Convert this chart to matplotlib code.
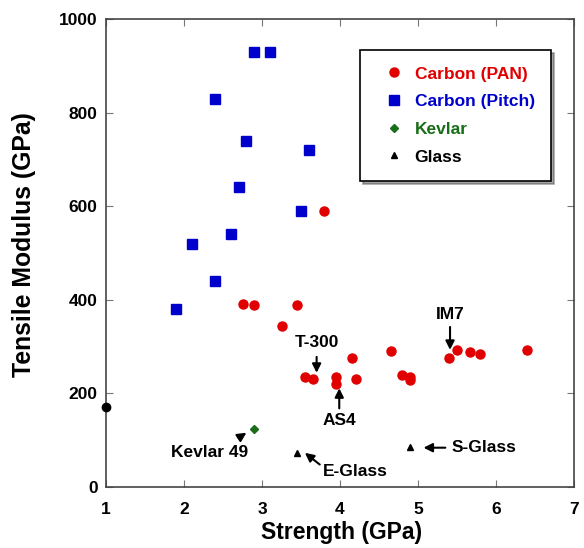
import matplotlib
matplotlib.use("Agg")
import matplotlib.pyplot as plt

plt.rcParams['font.family'] = ['Liberation Sans', 'DejaVu Sans']
plt.rcParams['font.weight'] = 'bold'

# data (strength GPa, modulus GPa)
pan_x = [3.8, 2.75, 2.9, 3.45, 3.25, 4.15, 4.65, 3.55, 3.65, 3.95, 3.95, 4.2,
         4.8, 4.9, 4.9, 5.4, 5.5, 5.67, 5.8, 6.4]
pan_y = [590, 390, 388, 388, 345, 275, 290, 235, 230, 235, 220, 230,
         240, 235, 228, 275, 292, 288, 284, 292]
pitch_x = [2.9, 3.1, 2.4, 2.8, 3.6, 2.7, 3.5, 2.6, 2.1, 2.4, 1.9]
pitch_y = [930, 930, 830, 740, 720, 640, 590, 540, 520, 440, 380]
kevlar_x = [2.9]
kevlar_y = [125]
glass_x = [3.45, 4.9]
glass_y = [72, 86]
odd_x = [1.0]
odd_y = [170]

red = '#e00000'
blue = '#0000cc'
green = '#1a6e1a'

fig = plt.figure(figsize=(5.84, 5.48), dpi=100)
ax = fig.add_axes([0.1815, 0.1113, 0.8015, 0.854])

ax.plot(pan_x, pan_y, 'o', color=red, ms=6.5, ls='none', label='Carbon (PAN)')
ax.plot(pitch_x, pitch_y, 's', color=blue, ms=6.5, ls='none', label='Carbon (Pitch)')
ax.plot(kevlar_x, kevlar_y, 'D', color=green, ms=4, ls='none', label='Kevlar')
ax.plot(glass_x, glass_y, '^', color='black', ms=5, ls='none', label='Glass')
ax.plot(odd_x, odd_y, 'o', color='black', ms=6, ls='none', clip_on=False, zorder=5)

ax.set_xlim(1, 7)
ax.set_ylim(0, 1000)
ax.set_xticks(range(1, 8))
ax.set_yticks(range(0, 1001, 200))
ax.tick_params(direction='in', top=True, right=True, length=5, width=0.8,
               color='#777777', labelsize=12.5)
ax.tick_params(axis='x', pad=11)
ax.tick_params(axis='y', pad=6)
for s in ax.spines.values():
    s.set_color('#444444')
    s.set_linewidth(1.2)
ax.set_xlabel('Strength (GPa)', fontsize=16.5, fontweight='bold')
ax.set_ylabel('Tensile Modulus (GPa)', fontsize=17.8, fontweight='bold')
ax.xaxis.set_label_coords(0.504, -0.072)
ax.yaxis.set_label_coords(-0.15, 0.517)

arrow = dict(arrowstyle='-|>', color='black', lw=1.5, mutation_scale=13,
             shrinkA=0, shrinkB=0)
notes = [
    ('T-300', (3.70, 244), (3.70, 278), (3.70, 308)),
    ('AS4', (3.99, 211), (3.99, 168), (3.99, 142)),
    ('IM7', (5.41, 293), (5.41, 342), (5.41, 368)),
    ('E-Glass', (3.55, 73), (3.74, 48), (4.19, 33)),
    ('S-Glass', (5.07, 84), (5.35, 84), (5.85, 84)),
    ('Kevlar 49', (2.80, 116), (2.70, 105), (2.33, 73)),
]
for txt, tip, tail, pos in notes:
    ax.text(pos[0], pos[1], txt, ha='center', va='center', fontsize=12.5,
            fontweight='bold')
    ax.annotate('', xy=tip, xytext=tail, arrowprops=arrow)

leg = ax.legend(loc='upper right', bbox_to_anchor=(0.951, 0.934), fontsize=12.5,
                frameon=True, fancybox=False, shadow=True, borderpad=0.95,
                labelspacing=0.72, handletextpad=0.2, handlelength=2.0,
                borderaxespad=0)
leg.get_frame().set_edgecolor('black')
leg.get_frame().set_linewidth(1.2)
for t, c in zip(leg.get_texts(), [red, blue, green, 'black']):
    t.set_color(c)
    t.set_fontweight('bold')

fig.savefig('out.png', dpi=100)
